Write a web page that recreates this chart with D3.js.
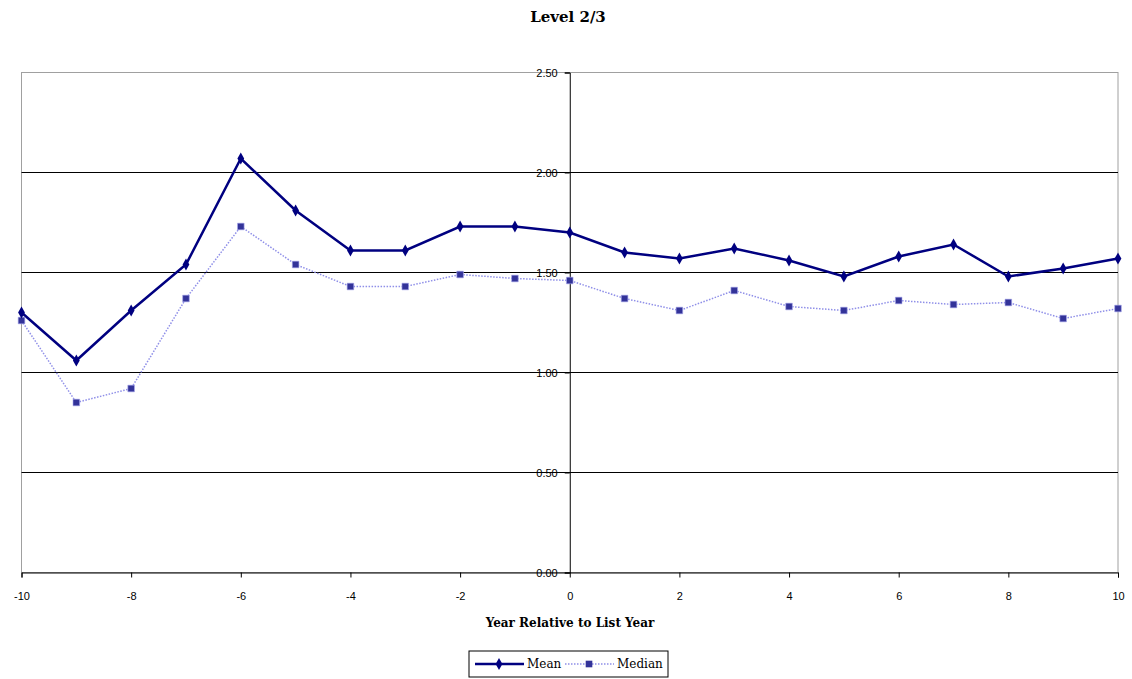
<!DOCTYPE html>
<html>
<head>
<meta charset="utf-8">
<script src="https://cdn.jsdelivr.net/npm/d3@7"></script>
<style>
body { margin: 0; background: #fff; }
svg { display: block; }
.serif { font-family: "DejaVu Serif", serif; }
</style>
</head>
<body>
<div id="chart"></div>
<script>
var years = [-10, -9, -8, -7, -6, -5, -4, -3, -2, -1, 0, 1, 2, 3, 4, 5, 6, 7, 8, 9, 10];
var meanValues = [1.30, 1.06, 1.31, 1.54, 2.07, 1.81, 1.61, 1.61, 1.73, 1.73, 1.70, 1.60, 1.57, 1.62, 1.56, 1.48, 1.58, 1.64, 1.48, 1.52, 1.57];
var medianValues = [1.26, 0.85, 0.92, 1.37, 1.73, 1.54, 1.43, 1.43, 1.49, 1.47, 1.46, 1.37, 1.31, 1.41, 1.33, 1.31, 1.36, 1.34, 1.35, 1.27, 1.32];
var yTicks = [0, 0.5, 1.0, 1.5, 2.0, 2.5];
var xTicks = [-10, -8, -6, -4, -2, 0, 2, 4, 6, 8, 10];

var WIDTH = 1132, HEIGHT = 679;
var margin = { top: 72.5, left: 21.5, right: 14, bottom: 106.5 };
var plotW = WIDTH - margin.left - margin.right;
var plotH = HEIGHT - margin.top - margin.bottom;

var svg = d3.select("#chart").append("svg")
	.attr("width", WIDTH).attr("height", HEIGHT);

var inner = svg.append("g")
	.attr("transform", `translate(${margin.left},${margin.top})`);

// scales
var x = d3.scaleLinear().domain([-10, 10]).range([0, plotW]);
var y = d3.scaleLinear().domain([0, 2.5]).range([plotH, 0]);

// plot border (grey)
inner.append("rect")
	.attr("x", 0).attr("y", 0)
	.attr("width", plotW).attr("height", plotH)
	.attr("fill", "none").attr("stroke", "#a0a0a0").attr("stroke-width", 1);

// gridlines
inner.selectAll(".grid")
	.data(yTicks.filter(d => d > 0 && d < 2.5))
	.enter().append("line")
	.attr("x1", 0).attr("x2", plotW)
	.attr("y1", d => y(d)).attr("y2", d => y(d))
	.attr("stroke", "#000").attr("stroke-width", 1);

// x axis at y = 0
var xAxis = inner.append("g")
	.attr("transform", `translate(0,${plotH})`)
	.call(d3.axisBottom(x).tickValues(xTicks).tickSize(5).tickPadding(15).tickFormat(d => String(d)));
xAxis.select(".domain").attr("stroke", "#000");

// y axis at x = 0
var yAxis = inner.append("g")
	.attr("transform", `translate(${x(0)},0)`)
	.call(d3.axisLeft(y).tickValues(yTicks).tickSize(5).tickPadding(7).tickFormat(d3.format(".2f")));
yAxis.select(".domain").attr("stroke", "#000");

svg.selectAll(".tick text")
	.attr("font-family", "'Liberation Sans', Arial, sans-serif")
	.attr("font-size", 11)
	.attr("fill", "#000");
yAxis.selectAll(".tick text").attr("dy", "0.32em");

// lines
var line = d3.line().x(d => x(d[0])).y(d => y(d[1]));
var meanData = years.map((yr, i) => [yr, meanValues[i]]);
var medianData = years.map((yr, i) => [yr, medianValues[i]]);

inner.append("path")
	.datum(medianData)
	.attr("d", line)
	.attr("fill", "none")
	.attr("stroke", "#8f8fe8")
	.attr("stroke-width", 1.5)
	.attr("stroke-dasharray", "1.5,1.5");

inner.append("path")
	.datum(meanData)
	.attr("d", line)
	.attr("fill", "none")
	.attr("stroke", "#000080")
	.attr("stroke-width", 2.5);

var diamond = d3.symbol().type(d3.symbolDiamond).size(40);
var square = d3.symbol().type(d3.symbolSquare).size(44);

inner.selectAll(".medianPt")
	.data(medianData)
	.enter().append("path")
	.attr("transform", d => `translate(${x(d[0])},${y(d[1])})`)
	.attr("d", square)
	.attr("fill", "#333399")
	.attr("stroke", "#aaaaee").attr("stroke-width", 0.6);

inner.selectAll(".meanPt")
	.data(meanData)
	.enter().append("path")
	.attr("transform", d => `translate(${x(d[0])},${y(d[1])})`)
	.attr("d", diamond)
	.attr("fill", "#000080");

// titles
svg.append("text")
	.attr("class", "serif")
	.attr("x", 568).attr("y", 22)
	.attr("text-anchor", "middle")
	.attr("font-weight", "bold")
	.attr("font-size", 15)
	.text("Level 2/3");

svg.append("text")
	.attr("class", "serif")
	.attr("x", 570).attr("y", 627)
	.attr("text-anchor", "middle")
	.attr("font-weight", "bold")
	.attr("font-size", 12)
	.text("Year Relative to List Year");

// legend
var legend = svg.append("g").attr("transform", "translate(469,651)");
legend.append("rect")
	.attr("width", 199).attr("height", 26)
	.attr("fill", "#fff").attr("stroke", "#000").attr("stroke-width", 1);

legend.append("line")
	.attr("x1", 6).attr("x2", 55).attr("y1", 13).attr("y2", 13)
	.attr("stroke", "#000080").attr("stroke-width", 2.5);
legend.append("path")
	.attr("transform", "translate(30,13)")
	.attr("d", diamond).attr("fill", "#000080");
legend.append("text")
	.attr("class", "serif")
	.attr("x", 58).attr("y", 17)
	.attr("font-size", 12)
	.text("Mean");

legend.append("line")
	.attr("x1", 96).attr("x2", 145).attr("y1", 13).attr("y2", 13)
	.attr("stroke", "#8f8fe8").attr("stroke-width", 1.5)
	.attr("stroke-dasharray", "1.5,1.5");
legend.append("path")
	.attr("transform", "translate(120,13)")
	.attr("d", square).attr("fill", "#333399");
legend.append("text")
	.attr("class", "serif")
	.attr("x", 148).attr("y", 17)
	.attr("font-size", 12)
	.text("Median");
</script>
</body>
</html>
